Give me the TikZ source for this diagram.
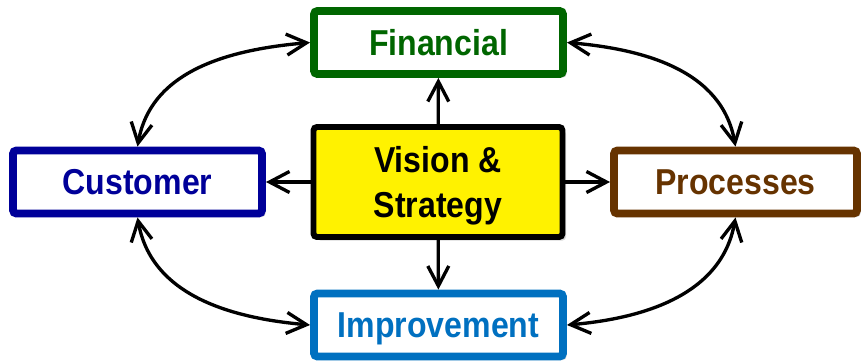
\documentclass[tikz,border=0pt]{standalone}
\usepackage{fontspec}
\newfontfamily\boxfont[FakeStretch=0.89]{Liberation Sans}
\usetikzlibrary{arrows.meta,shadows}

\definecolor{fingreen}{RGB}{0,102,0}
\definecolor{custblue}{RGB}{0,0,153}
\definecolor{procbrown}{RGB}{102,51,0}
\definecolor{imprblue}{RGB}{0,112,192}

\begin{document}
\begin{tikzpicture}[>={Straight Barb[length=4mm,width=4.2mm]},
  box/.style={draw=#1,text=#1,fill=white,line width=4.5pt,rounded corners=2pt,
    minimum width=4.98cm,minimum height=1.26cm,
    font=\boxfont\bfseries\fontsize{20.5}{25.5}\selectfont,
    drop shadow={opacity=0.3,shadow xshift=0.07cm,shadow yshift=-0.07cm}},
  link/.style={<->,line width=1.9pt},
  spoke/.style={->,line width=1.9pt}]

  \useasboundingbox (0,0) rectangle (17.24,7.26);

  % Centre: vision and strategy
  \node[box=black,fill=yellow,line width=3.4pt,minimum height=2.2cm,align=center,
    text depth=0pt]
    (vision) at (8.76,3.62) {Vision \&\\Strategy};

  % Four perspectives
  \node[box=fingreen] (financial) at (8.77,6.41) {Financial};
  \node[box=custblue] (customer) at (2.75,3.62) {Customer};
  \node[box=procbrown,minimum width=4.86cm] (processes) at (14.71,3.62) {Processes};
  \node[box=imprblue,text depth=0pt] (improvement) at (8.77,0.76) {Improvement};

  % Spokes out of the centre
  \foreach \tgt in {financial,customer,processes,improvement} {
    \draw[spoke] (vision) -- (\tgt);
  }

  % Outer ring
  \draw[link] (customer.north) to[out=80,in=185] (financial.west);
  \draw[link] (financial.east) to[out=-5,in=100] (processes.north);
  \draw[link] (customer.south) to[out=-80,in=175] (improvement.west);
  \draw[link] (improvement.east) to[out=5,in=-100] (processes.south);

\end{tikzpicture}
\end{document}
